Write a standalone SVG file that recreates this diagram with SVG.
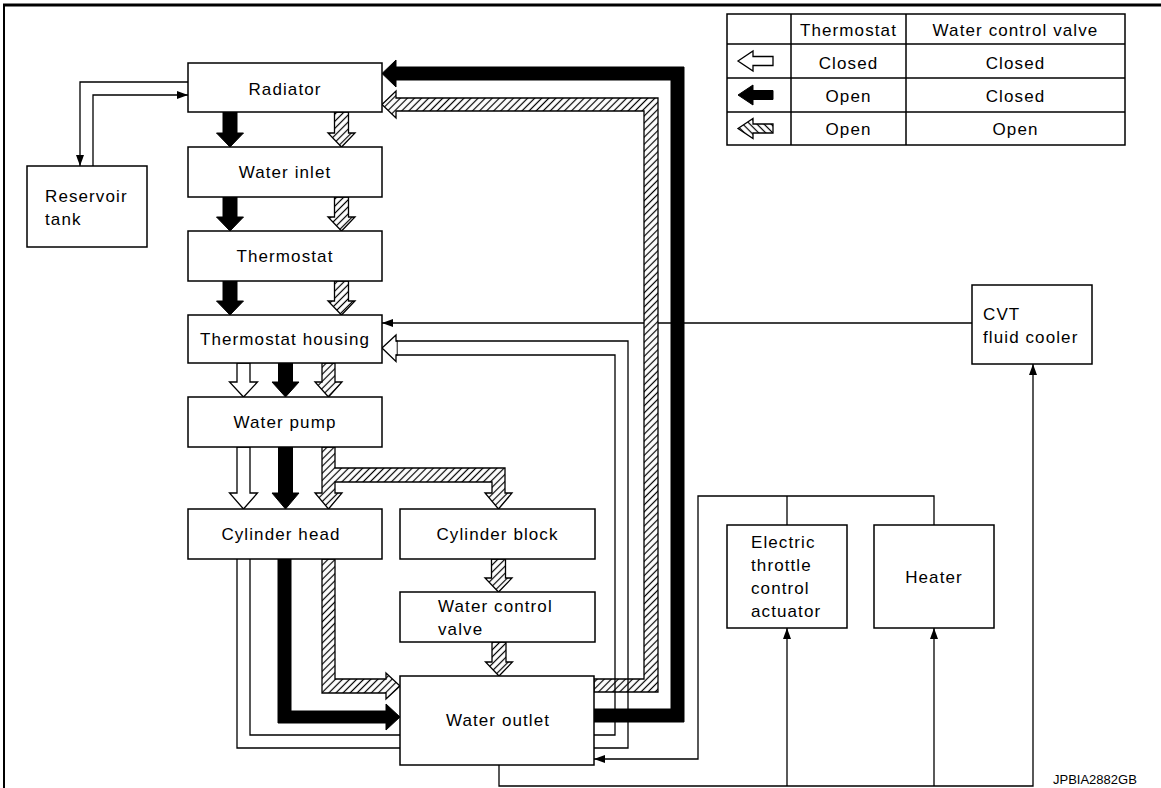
<svg xmlns="http://www.w3.org/2000/svg" width="1161" height="788" viewBox="0 0 1161 788">
<defs>
<pattern id="hatch" patternUnits="userSpaceOnUse" width="5" height="5" patternTransform="rotate(45)">
<rect width="5" height="5" fill="#fff"/>
<line x1="2.5" y1="0" x2="2.5" y2="5" stroke="#000" stroke-width="1.2"/>
</pattern>
<pattern id="hatch2" patternUnits="userSpaceOnUse" width="5" height="5" patternTransform="rotate(-45)">
<rect width="5" height="5" fill="#fff"/>
<line x1="2.5" y1="0" x2="2.5" y2="5" stroke="#000" stroke-width="1.2"/>
</pattern>
<marker id="ah" markerUnits="userSpaceOnUse" markerWidth="11" markerHeight="8" refX="11" refY="4" orient="auto">
<path d="M0,0 L11,4 L0,8 z" fill="#000"/>
</marker>
</defs>
<style>
.box{fill:#fff;stroke:#000;stroke-width:1.5}
.t{font-family:"Liberation Sans",Arial,sans-serif;font-size:17px;letter-spacing:1.1px;fill:#000}
.m{text-anchor:middle}
.ln{fill:none;stroke:#000;stroke-width:1.3}
.blk{fill:#000;stroke:#000;stroke-width:1}
.wht{fill:#fff;stroke:#000;stroke-width:1.3}
.hat{fill:url(#hatch);stroke:#000;stroke-width:1.3}
.hat2{fill:url(#hatch2);stroke:#000;stroke-width:1.3}
.cell{fill:none;stroke:#000;stroke-width:1.5}
</style>

<g id="frame">
<line x1="3" y1="5" x2="1161" y2="5" stroke="#000" stroke-width="3"/>
<line x1="4" y1="4" x2="4" y2="788" stroke="#000" stroke-width="2"/>
</g>

<g id="legend">
<rect class="cell" x="727" y="14" width="398" height="131"/>
<line class="cell" x1="727" y1="44" x2="1125" y2="44"/>
<line class="cell" x1="727" y1="78" x2="1125" y2="78"/>
<line class="cell" x1="727" y1="112" x2="1125" y2="112"/>
<line class="cell" x1="791" y1="14" x2="791" y2="145"/>
<line class="cell" x1="906" y1="14" x2="906" y2="145"/>
<text class="t m" x="848.5" y="36">Thermostat</text>
<text class="t m" x="1015.5" y="36">Water control valve</text>
<polygon class="wht" points="738,61 753,51 753,56.5 773,56.5 773,65.5 753,65.5 753,71"/>
<text class="t m" x="848.5" y="69">Closed</text>
<text class="t m" x="1015.5" y="69">Closed</text>
<polygon class="blk" points="738,95 753,85 753,90.5 773,90.5 773,99.5 753,99.5 753,105"/>
<text class="t m" x="848.5" y="102">Open</text>
<text class="t m" x="1015.5" y="102">Closed</text>
<polygon class="hat2" points="738,128.5 753,118.5 753,124 773,124 773,133 753,133 753,138.5"/>
<text class="t m" x="848.5" y="135">Open</text>
<text class="t m" x="1015.5" y="135">Open</text>
</g>

<g id="connectors">
<path class="ln" d="M188,82 H80 V166" marker-end="url(#ah)"/>
<path class="ln" d="M93,166 V95 H188" marker-end="url(#ah)"/>
<path class="ln" d="M972,323 H382" marker-end="url(#ah)"/>
<path class="ln" d="M499,765 V786 H1033 V364" marker-end="url(#ah)"/>
<path class="ln" d="M787,786 V628" marker-end="url(#ah)"/>
<path class="ln" d="M934,786 V628" marker-end="url(#ah)"/>
<path class="ln" d="M934,525 V496 H698 V759 H594" marker-end="url(#ah)"/>
<path class="ln" d="M787,496 V525"/>

<polygon class="hat" points="334.5,112 334.5,133 328,133 341.5,147 355,133 348.5,133 348.5,112"/>
<polygon class="hat" points="334.5,197 334.5,217 328,217 341.5,231 355,217 348.5,217 348.5,197"/>
<polygon class="hat" points="334.5,281 334.5,301 328,301 341.5,315 355,301 348.5,301 348.5,281"/>
<polygon class="hat" points="322,363 322,382 315,382 328.5,397 342,382 335,382 335,363"/>
<polygon class="hat" points="322,447 322,493 315,493 328.5,509 342,493 335,493 335,482 492,482 492,493 485,493 498.5,509 512,493 505,493 505,468 335,468 335,447"/>
<polygon class="hat" points="491.5,559 491.5,578 485,578 498.5,592 512,578 505.5,578 505.5,559"/>
<polygon class="hat" points="492,642 492,662 485.5,662 499,676 512.5,662 506,662 506,642"/>
<polygon class="hat" points="322,559 322,693 386,693 386,699 400,686 386,673 386,679 335,679 335,559"/>
<polygon class="hat" points="594,679 644,679 644,111 396,111 396,118 382,104.5 396,91 396,98 658,98 658,692 594,692"/>

<polygon class="wht" points="237,363 237,382 229.5,382 243.5,397 257.5,382 250,382 250,363"/>
<polygon class="wht" points="237,447 237,493 229.5,493 243.5,509 257.5,493 250,493 250,447"/>
<path class="ln" d="M237,559 V748 H400"/>
<path class="ln" d="M250,559 V735 H400"/>
<path class="ln" d="M594,748 H628 V341 H396"/>
<path class="ln" d="M594,735 H615 V355 H396"/>
<polygon class="wht" points="396,335 382,348 396,361.5 396,355 397,355 397,341 396,341"/>
<line x1="396" y1="342" x2="396" y2="354" stroke="#fff" stroke-width="1.2"/>

<polygon class="blk" points="223,112 223,133 216.5,133 230,147 243.5,133 237,133 237,112"/>
<polygon class="blk" points="223,197 223,217 216.5,217 230,231 243.5,217 237,217 237,197"/>
<polygon class="blk" points="223,281 223,301 216.5,301 230,315 243.5,301 237,301 237,281"/>
<polygon class="blk" points="278.5,363 278.5,382 272,382 285.5,397 299,382 292.5,382 292.5,363"/>
<polygon class="blk" points="278.5,447 278.5,493 272,493 285.5,509 299,493 292.5,493 292.5,447"/>
<polygon class="blk" points="278,559 278,723 386,723 386,730 400,717 386,704 386,711 291,711 291,559"/>
<polygon class="blk" points="594,709 671,709 671,80 396,80 396,87 382,73.5 396,60 396,67 684,67 684,722 594,722"/>
</g>

<g id="radiator">
<rect class="box" x="188" y="63" width="194" height="49"/>
<text class="t m" x="285" y="95">Radiator</text>
</g>
<g id="reservoir-tank">
<rect class="box" x="27" y="166" width="120" height="81"/>
<text class="t" x="45" y="202">Reservoir</text>
<text class="t" x="45" y="225">tank</text>
</g>
<g id="water-inlet">
<rect class="box" x="188" y="147" width="194" height="50"/>
<text class="t m" x="285" y="178">Water inlet</text>
</g>
<g id="thermostat">
<rect class="box" x="188" y="231" width="194" height="50"/>
<text class="t m" x="285" y="262">Thermostat</text>
</g>
<g id="thermostat-housing">
<rect class="box" x="188" y="315" width="194" height="48"/>
<text class="t m" x="285" y="345">Thermostat housing</text>
</g>
<g id="water-pump">
<rect class="box" x="188" y="397" width="194" height="50"/>
<text class="t m" x="285" y="428">Water pump</text>
</g>
<g id="cylinder-head">
<rect class="box" x="188" y="509" width="194" height="50"/>
<text class="t m" x="281" y="540">Cylinder head</text>
</g>
<g id="cylinder-block">
<rect class="box" x="400" y="509" width="195" height="50"/>
<text class="t m" x="497.5" y="540">Cylinder block</text>
</g>
<g id="water-control-valve">
<rect class="box" x="400" y="592" width="195" height="50"/>
<text class="t" x="438" y="612">Water control</text>
<text class="t" x="438" y="635">valve</text>
</g>
<g id="water-outlet">
<rect class="box" x="400" y="676" width="194" height="89"/>
<text class="t m" x="498" y="726">Water outlet</text>
</g>
<g id="cvt-fluid-cooler">
<rect class="box" x="972" y="285" width="120" height="79"/>
<text class="t" x="983" y="320">CVT</text>
<text class="t" x="983" y="343">fluid cooler</text>
</g>
<g id="electric-throttle-control-actuator">
<rect class="box" x="727" y="525" width="120" height="103"/>
<text class="t" x="751" y="548">Electric</text>
<text class="t" x="751" y="571">throttle</text>
<text class="t" x="751" y="594">control</text>
<text class="t" x="751" y="617">actuator</text>
</g>
<g id="heater">
<rect class="box" x="874" y="525" width="120" height="103"/>
<text class="t m" x="934" y="583">Heater</text>
</g>
<text x="1053" y="784" font-family="'Liberation Sans',Arial,sans-serif" font-size="13" fill="#000">JPBIA2882GB</text>
</svg>
